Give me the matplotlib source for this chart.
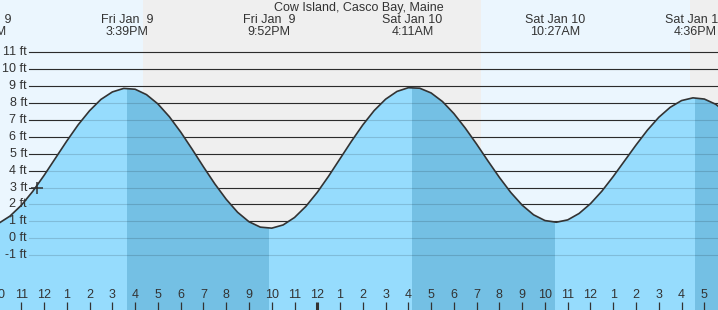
import numpy as np
import matplotlib.pyplot as plt
from matplotlib.transforms import blended_transform_factory

plt.rcParams['font.family'] = ['Liberation Sans', 'DejaVu Sans']

# hours counted from Fri Jan 9 00:00, one reading every half hour
hours = np.arange(10.0, 42.5, 0.5)
height_ft = [0.88, 1.31, 1.95, 2.77, 3.72, 4.74, 5.76, 6.72, 7.55, 8.22,
             8.66, 8.87, 8.82, 8.50, 7.95, 7.20, 6.29, 5.28, 4.23, 3.22,
             2.31, 1.54, 0.98, 0.66, 0.60, 0.79, 1.23, 1.89, 2.72, 3.68,
             4.71, 5.74, 6.71, 7.56, 8.23, 8.69, 8.91, 8.88, 8.60, 8.09,
             7.38, 6.52, 5.57, 4.57, 3.60, 2.71, 1.96, 1.39, 1.05, 0.95,
             1.09, 1.47, 2.05, 2.79, 3.66, 4.59, 5.52, 6.40, 7.16, 7.75,
             8.15, 8.31, 8.24, 7.93, 7.40]

# high and low tides
ext_hours = [9.40, 15.65, 21.87, 28.18, 34.45, 40.60]
ext_ft = [0.70, 8.88, 0.59, 8.93, 0.95, 8.32]
ext_day = ['Fri Jan  9', 'Fri Jan  9', 'Fri Jan  9', 'Sat Jan 10', 'Sat Jan 10', 'Sat Jan 10']
ext_time = ['9:24AM', '3:39PM', '9:52PM', '4:11AM', '10:27AM', '4:36PM']

# sunset / sunrise / sunset
sun_changes = [16.36, 31.18, 40.35]

now_hour = 11.68
now_ft = 3.0
ft_levels = list(range(-1, 12))

W, H = 718, 310
x_min, x_max = 10.065, 41.60
y_min, y_max = -4.243, 14.10

fig = plt.figure(figsize=(W / 100, H / 100), dpi=100)
ax = fig.add_axes([0, 0, 1, 1])
ax.set_xlim(x_min, x_max)
ax.set_ylim(y_min, y_max)
ax.set_axis_off()

day_col = '#ebf6fe'
night_col = '#efefef'
light_water = '#96dcfd'
dark_water = '#74c0e4'
ink = '#333333'

# day / night background
edges = [x_min] + sun_changes + [x_max]
for i in range(len(edges) - 1):
    ax.axvspan(edges[i], edges[i + 1], color=day_col if i % 2 == 0 else night_col,
               lw=0, zorder=0)

# horizontal lines and labels
ytrans = blended_transform_factory(ax.transAxes, ax.transData)
for lv in ft_levels:
    ax.axhline(lv, xmin=29 / W, xmax=1, color=ink, lw=0.8, zorder=1)
    ax.text(27 / W, lv, f'{lv} ft', transform=ytrans, ha='right', va='center',
            fontsize=9, color=ink, zorder=7)

# water
water = ax.fill_between(hours, height_ft, y_min, color=light_water, lw=0, zorder=2)
clip = water.get_paths()[0]
for i in range(len(ext_hours)):
    if ext_ft[i] > 5:
        end = ext_hours[i + 1] if i + 1 < len(ext_hours) else x_max
        span = ax.axvspan(ext_hours[i], end, color=dark_water, lw=0, zorder=3)
        span.set_clip_path(clip, transform=ax.transData)

# lines seen through the water
for lv in ft_levels:
    ax.axhline(lv, xmin=29 / W, xmax=1, color=(0, 0, 0, 0.14), lw=0.8, zorder=4)

ax.plot(hours, height_ft, color=ink, lw=1.2, zorder=5)
ax.plot([now_hour], [now_ft], marker='+', ms=9, mew=1.1, color=ink, zorder=6)

# hour ticks along the bottom
xtrans = blended_transform_factory(ax.transData, ax.transAxes)
for h in range(10, 42):
    lab = h % 12
    if lab == 0:
        lab = 12
    bold = (h % 24 == 0)
    ax.vlines(h, 0, 8 / H, transform=xtrans, color=ink,
              lw=2.2 if bold else 0.9, zorder=7)
    ax.text(h, 15 / H, str(lab), transform=xtrans, ha='center', va='center',
            fontsize=9, color=ink, zorder=7)

# tide labels along the top
for t, d, s in zip(ext_hours, ext_day, ext_time):
    ax.text(t, 1 - 20 / H, d, transform=xtrans, ha='center', va='center',
            fontsize=9, color=ink, zorder=7)
    ax.text(t, 1 - 32 / H, s, transform=xtrans, ha='center', va='center',
            fontsize=9, color=ink, zorder=7)

fig.text(0.5, 1 - 7.5 / H, 'Cow Island, Casco Bay, Maine', ha='center', va='center',
         fontsize=9, color=ink)

fig.savefig('out.png', dpi=100)
